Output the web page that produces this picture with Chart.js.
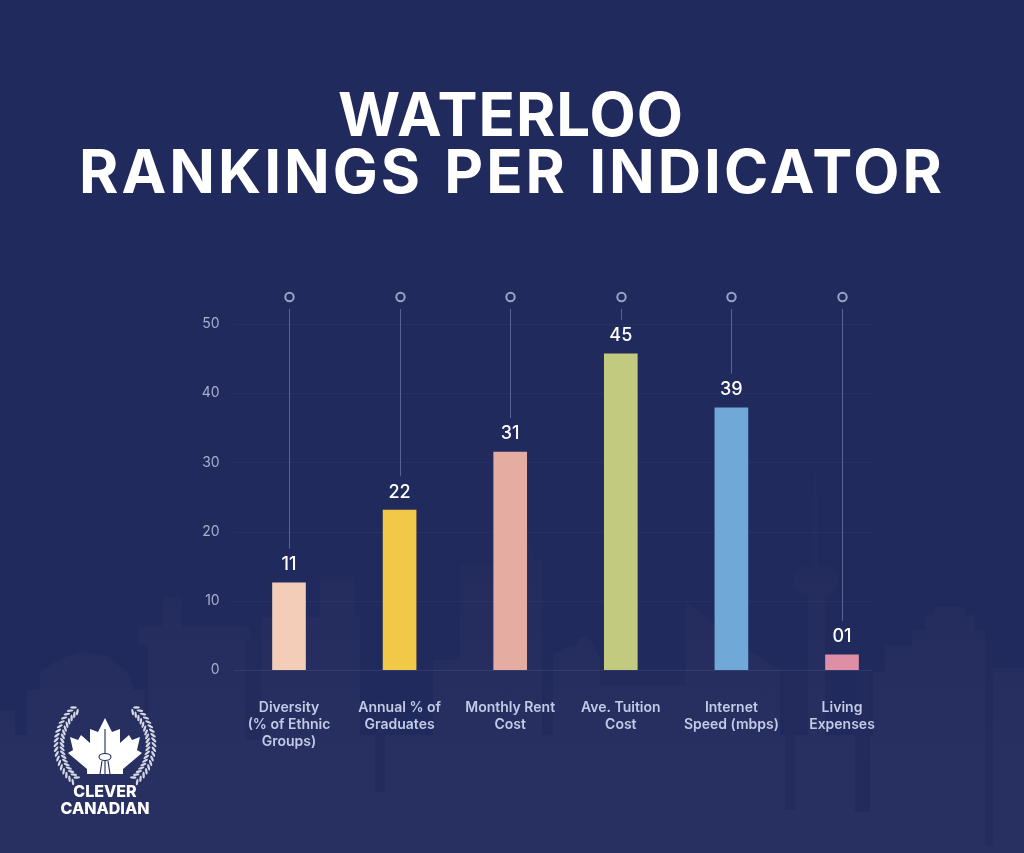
<!DOCTYPE html>
<html>
<head>
<meta charset="utf-8">
<title>Waterloo Rankings Per Indicator</title>
<script src="https://cdn.jsdelivr.net/npm/chart.js@4"></script>
<style>
  html, body { margin: 0; padding: 0; background: #202a5c; }
  #wrap { position: relative; width: 1024px; height: 853px; overflow: hidden; }
  #bg, #logo { position: absolute; left: 0; top: 0; }
  #chart { position: absolute; left: 0; top: 0; }
</style>
</head>
<body>
<div id="wrap">
  <!-- faint city skyline behind the chart -->
  <svg id="bg" width="1024" height="853" viewBox="0 0 1024 853">
    <defs>
      <linearGradient id="sky" gradientUnits="userSpaceOnUse" x1="0" y1="560" x2="0" y2="770">
        <stop offset="0" stop-color="#232c5d"/>
        <stop offset="1" stop-color="#283061"/>
      </linearGradient>
    </defs>
    <rect width="1024" height="853" fill="#202a5c"/>
    <g fill="url(#sky)">
      <rect x="0" y="735" width="1024" height="118"/>
      <rect x="0" y="710" width="15" height="143"/>
      <path d="M27 853V690H40V672L58 660L80 652L105 656L128 672L134 690H145V853Z"/>
      <path d="M148 853V645H138V627H162V597H182V627H250V645H245V853Z"/>
      <path d="M262 853V617H320V577H355V617H360V853Z"/>
      <path d="M433 853V660H460V565H515V545H522V853Z"/>
      <path d="M522 853V552L528 540L535 560H542V853Z"/>
      <path d="M553 853V655L565 648L578 645V637H588L596 650L600 660V853Z"/>
      <path d="M600 853V685H686V602L742 645L780 670V853Z"/>
      <path d="M808 853V596A15 15 0 0 1 808 566H812V510L815 465L818 510V566H822A15 15 0 0 1 825 596V853Z"/>
      <path d="M873 853V672H885V645H912V630H925V615H935V607H965V615H975V630H985V853Z"/>
      <rect x="993" y="668" width="31" height="185"/>
    </g>
    <g fill="#222b5c">
      <rect x="245" y="640" width="17" height="100"/>
      <rect x="375" y="700" width="10" height="92"/>
      <rect x="545" y="680" width="8" height="55"/>
      <rect x="600" y="672" width="86" height="12"/>
      <rect x="785" y="672" width="23" height="60"/>
      <rect x="785" y="730" width="10" height="80"/>
      <rect x="855" y="672" width="15" height="140"/>
      <rect x="985" y="640" width="8" height="205"/>
    </g>
  </svg>
  <canvas id="chart" width="1024" height="853"></canvas>
  <!-- Clever Canadian logo -->
  <svg id="logo" width="1024" height="853" viewBox="0 0 1024 853">
    <g id="laurel" fill="#d5d8e4"></g>
    <path fill="#ffffff" d="M105 718L112 732L120 729L120 743L129 735L132 740L140 737L137 750L142 753L123 769V774H87V769L68 753L73 750L70 737L78 740L81 735L90 743L90 729L98 732Z"/>
    <g fill="none" stroke="#202a5c" stroke-width="1.1">
      <path d="M105 729V754"/>
      <ellipse cx="105" cy="757" rx="6" ry="3.5" fill="#ffffff"/>
      <path d="M102 761L100 774M108 761L110 774M105 761V774"/>
    </g>
    <text x="105" y="797" text-anchor="middle" fill="#ffffff" font-family="Inter" font-weight="800" font-size="16">CLEVER</text>
    <text x="105" y="814" text-anchor="middle" fill="#ffffff" font-family="Inter" font-weight="800" font-size="16">CANADIAN</text>
  </svg>
</div>
<script>
// values
const categories = [
  ["Diversity", "(% of Ethnic", "Groups)"],
  ["Annual % of", "Graduates"],
  ["Monthly Rent", "Cost"],
  ["Ave. Tuition", "Cost"],
  ["Internet", "Speed (mbps)"],
  ["Living", "Expenses"],
];
const barValues = [12.6, 23.1, 31.5, 45.7, 37.9, 2.2]; // heights as drawn against the axis
const printedValues = ["11", "22", "31", "45", "39", "01"]; // numbers printed over the bars
const barColors = ["#f3cdb8", "#f2c849", "#e5aca2", "#c1ca7f", "#70a9d8", "#de8fa6"];
const titleLines = ["WATERLOO", "RANKINGS PER INDICATOR"];

// thin stem + ring above each bar, number on top of the bar, faint grid, title
const decorations = {
  id: "decorations",
  beforeDatasetsDraw(chart) {
    const { ctx, scales, chartArea } = chart;
    ctx.save();
    ctx.lineWidth = 1;
    scales.y.ticks.forEach((t) => {
      const y = Math.round(scales.y.getPixelForValue(t.value)) + 0.5;
      ctx.strokeStyle = t.value === 0 ? "rgba(255,255,255,0.07)" : "rgba(255,255,255,0.035)";
      ctx.beginPath();
      ctx.moveTo(chartArea.left, y);
      ctx.lineTo(872, y);
      ctx.stroke();
    });
    chart.getDatasetMeta(0).data.forEach((bar) => {
      const x = Math.round(bar.x) + 0.5;
      ctx.strokeStyle = "rgba(170,178,215,0.42)";
      ctx.beginPath();
      ctx.moveTo(x, chartArea.top - 15);
      ctx.lineTo(x, bar.y - 34);
      ctx.stroke();
      ctx.strokeStyle = "#9aa2c8";
      ctx.lineWidth = 2;
      ctx.beginPath();
      ctx.arc(x, chartArea.top - 27, 4.2, 0, Math.PI * 2);
      ctx.stroke();
      ctx.lineWidth = 1;
    });
    ctx.restore();
  },
  afterDatasetsDraw(chart) {
    const { ctx } = chart;
    ctx.save();
    ctx.fillStyle = "#ffffff";
    ctx.font = "500 18px Inter";
    ctx.textAlign = "center";
    ctx.textBaseline = "middle";
    chart.getDatasetMeta(0).data.forEach((bar, i) => {
      ctx.fillText(printedValues[i], bar.x, bar.y - 18);
    });
    // title is drawn here because the native one has no letter spacing
    ctx.font = "700 60px Inter";
    ctx.textBaseline = "alphabetic";
    ctx.letterSpacing = "1px";
    ctx.fillText(titleLines[0], 511, 136);
    ctx.letterSpacing = "3px";
    ctx.wordSpacing = "4px";
    ctx.fillText(titleLines[1], 512, 193);
    ctx.restore();
  },
};

new Chart(document.getElementById("chart"), {
  type: "bar",
  data: {
    labels: categories,
    datasets: [
      {
        data: barValues,
        backgroundColor: barColors,
        barThickness: 33,
      },
    ],
  },
  plugins: [decorations],
  options: {
    responsive: false,
    animation: false,
    layout: { padding: { top: 324, right: 126.7 } },
    plugins: {
      legend: { display: false },
      tooltip: { enabled: false },
    },
    scales: {
      x: {
        grid: { display: false, drawTicks: false },
        border: { display: false },
        afterFit: (s) => { s.height = 183; },
        ticks: {
          color: "#c3c9e6",
          font: { family: "Inter", size: 14, weight: "600", lineHeight: 1.22 },
          padding: 29,
          maxRotation: 0,
          autoSkip: false,
        },
      },
      y: {
        min: 0,
        max: 50,
        grid: { display: false, drawTicks: false },
        border: { display: false },
        afterFit: (s) => { s.width = 233.7; },
        ticks: {
          stepSize: 10,
          color: "#a9afcf",
          font: { family: "Inter", size: 14 },
          padding: 14,
        },
      },
    },
  },
});

// laurel sprigs of the logo
const laurel = document.getElementById("laurel");
[-1, 1].forEach((side) => {
  for (let a = -50; a <= 50; a += 5.5) {
    const r = a * Math.PI / 180;
    [-1, 1].forEach((k) => {
      const rad = 46 + k * 3;
      const cx = 105 + side * rad * Math.cos(r);
      const cy = 745 + rad * Math.sin(r);
      const e = document.createElementNS("http://www.w3.org/2000/svg", "ellipse");
      e.setAttribute("cx", cx);
      e.setAttribute("cy", cy);
      e.setAttribute("rx", 3.3);
      e.setAttribute("ry", 1.2);
      e.setAttribute("transform", `rotate(${side * (a + 90 - k * 40)} ${cx} ${cy})`);
      laurel.appendChild(e);
    });
  }
});
</script>
</body>
</html>
